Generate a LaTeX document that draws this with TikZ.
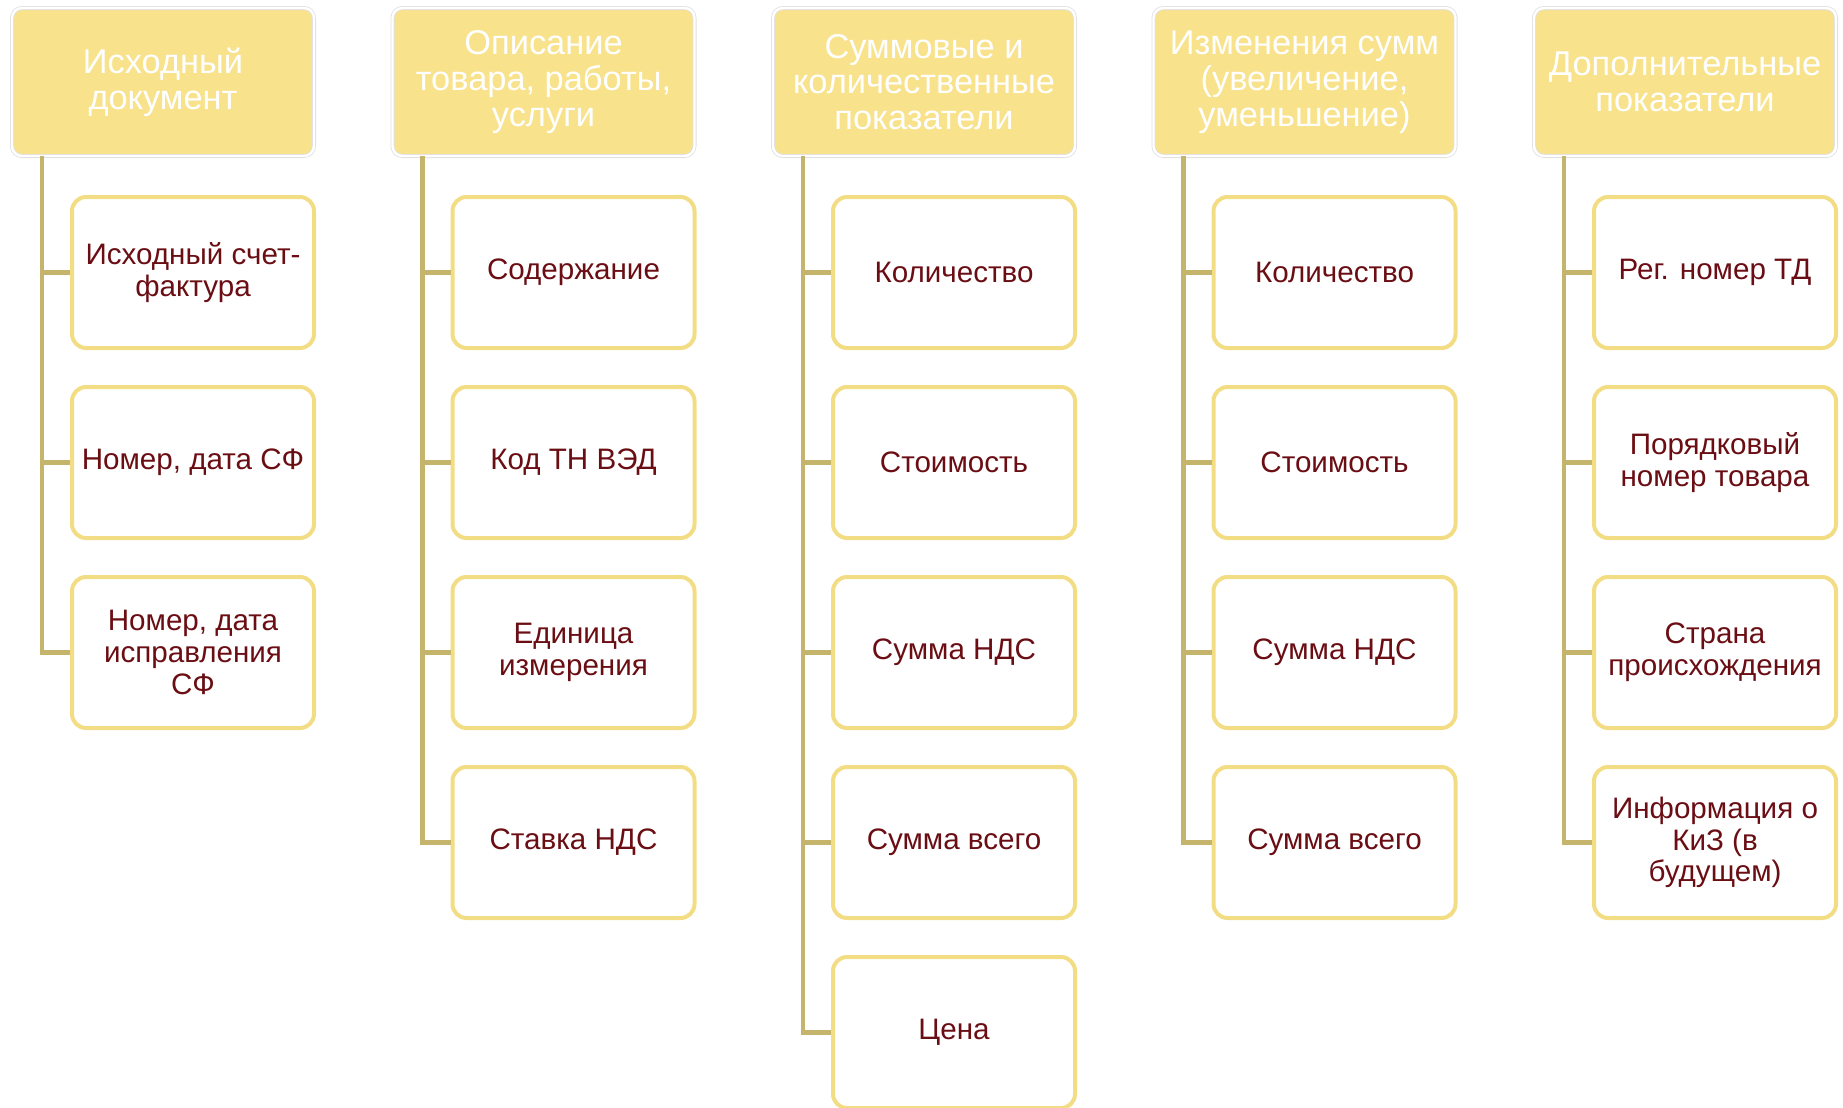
\documentclass[tikz,border=0pt]{standalone}
\usepackage{fontspec}
\setmainfont{Liberation Sans}
\definecolor{hfill}{HTML}{F8E28C}
\definecolor{cborder}{HTML}{F3DD84}
\definecolor{conncol}{HTML}{C5B56C}
\definecolor{txtred}{HTML}{6A0E14}
\tikzset{
  head/.style={rectangle, rounded corners=5pt, fill=hfill, draw=black!12, double=white, double distance=1.2pt,
    minimum width=151pt, minimum height=74pt, align=center, text=white,
    font=\fontsize{17.2}{17.9}\selectfont, inner sep=1pt},
  item/.style={rectangle, rounded corners=7pt, fill=white, draw=cborder, line width=2pt,
    minimum width=121pt, minimum height=75.5pt, align=center, text=txtred,
    font=\fontsize{14.8}{15.9}\selectfont, inner sep=1pt},
  conn/.style={draw=conncol, line width=2.2pt}
}
\begin{document}
\begin{tikzpicture}[x=0.5pt,y=-0.5pt]
\useasboundingbox (0,0) rectangle (1843,1108);
% headers
\node[head] (h1) at (163,82) {Исходный\\документ};
\node[head] (h2) at (543.5,82) {Описание\\товара, работы,\\услуги};
\node[head] (h3) at (924,82) {Суммовые и\\количественные\\показатели};
\node[head] (h4) at (1304.5,82) {Изменения сумм\\(увеличение,\\уменьшение)};
\node[head] (h5) at (1685,82) {Дополнительные\\показатели};
% line x coordinates
\coordinate (v1) at (42,0);
\coordinate (v2) at (422.5,0);
\coordinate (v3) at (803,0);
\coordinate (v4) at (1183.5,0);
\coordinate (v5) at (1564,0);
% column 1
\node[item] (c11) at (193,272.5) {Исходный счет-\\фактура};
\node[item] (c12) at (193,462.5) {Номер, дата СФ};
\node[item] (c13) at (193,652.5) {Номер, дата\\исправления\\СФ};
% column 2
\node[item] (c21) at (573.5,272.5) {Содержание};
\node[item] (c22) at (573.5,462.5) {Код ТН ВЭД};
\node[item] (c23) at (573.5,652.5) {Единица\\измерения};
\node[item] (c24) at (573.5,842.5) {Ставка НДС};
% column 3
\node[item] (c31) at (954,272.5) {Количество};
\node[item] (c32) at (954,462.5) {Стоимость};
\node[item] (c33) at (954,652.5) {Сумма НДС};
\node[item] (c34) at (954,842.5) {Сумма всего};
\node[item] (c35) at (954,1032.5) {Цена};
% column 4
\node[item] (c41) at (1334.5,272.5) {Количество};
\node[item] (c42) at (1334.5,462.5) {Стоимость};
\node[item] (c43) at (1334.5,652.5) {Сумма НДС};
\node[item] (c44) at (1334.5,842.5) {Сумма всего};
% column 5
\node[item] (c51) at (1715,272.5) {Рег. номер ТД};
\node[item] (c52) at (1715,462.5) {Порядковый\\номер товара};
\node[item] (c53) at (1715,652.5) {Страна\\происхождения};
\node[item] (c54) at (1715,842.5) {Информация о\\КиЗ (в\\будущем)};
% connectors
\foreach \h/\v/\c in {h1/v1/c11,h1/v1/c12,h1/v1/c13,
                      h2/v2/c21,h2/v2/c22,h2/v2/c23,h2/v2/c24,
                      h3/v3/c31,h3/v3/c32,h3/v3/c33,h3/v3/c34,h3/v3/c35,
                      h4/v4/c41,h4/v4/c42,h4/v4/c43,h4/v4/c44,
                      h5/v5/c51,h5/v5/c52,h5/v5/c53,h5/v5/c54}
  \draw[conn] (\v |- \h.south) |- (\c.west);
\end{tikzpicture}
\end{document}
